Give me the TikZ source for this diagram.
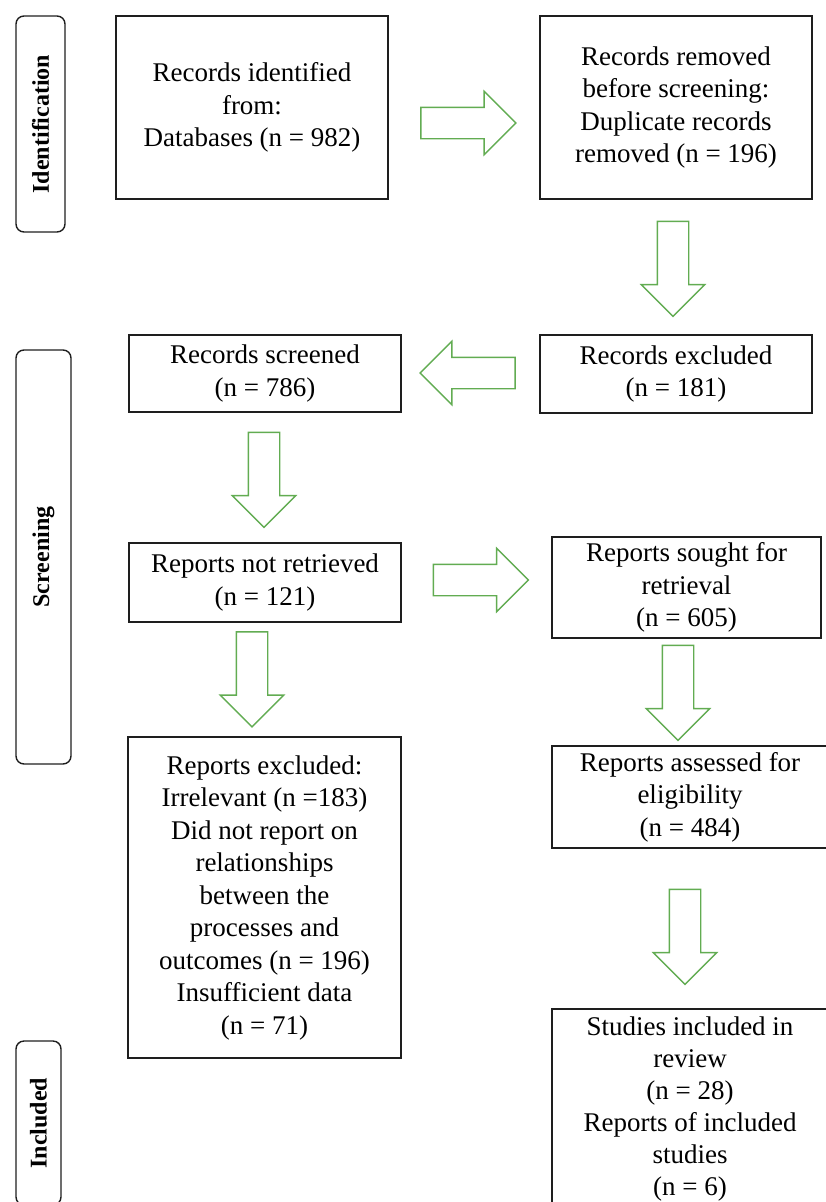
\documentclass[tikz,border=0pt]{standalone}
\usepackage{fontspec}
\setmainfont{Liberation Serif}
\usetikzlibrary{shapes.arrows}
\definecolor{arrowgreen}{RGB}{98,172,82}
\definecolor{boxline}{RGB}{30,30,30}
\tikzset{
  box/.style={draw=boxline, line width=1.8pt, rectangle, align=center,
    font=\fontsize{27}{32.5}\selectfont, inner sep=0pt},
  stage/.style={draw=boxline, line width=1.4pt, rectangle, rounded corners=8pt,
    rotate=90, inner sep=0pt, font=\fontsize{24}{28}\selectfont\bfseries},
  blockarrow/.style={single arrow, draw=arrowgreen, fill=white, line width=1.4pt,
    minimum height=95pt, inner xsep=0pt, inner ysep=15pt, single arrow head extend=16pt,
    single arrow tip angle=90}
}
\begin{document}
\begin{tikzpicture}[x=1pt,y=-1pt]
\useasboundingbox (0,0) rectangle (825,1202);
% stage labels
\node[stage, minimum width=216pt, minimum height=49pt] (lid) at (40.5,124) {Identification};
\node[stage, minimum width=414pt, minimum height=55pt] (lsc) at (43.5,557) {Screening};
\node[stage, minimum width=164pt, minimum height=45pt] (lin) at (38.5,1123) {Included};
% boxes
\node[box, minimum width=272pt, minimum height=183pt] (b1) at (252,107.5) {Records identified\\from:\\Databases (n = 982)};
\node[box, minimum width=272pt, minimum height=183pt] (b2) at (676,107.5) {Records removed\\before screening:\\Duplicate records\\removed (n = 196)};
\node[box, minimum width=272pt, minimum height=78pt] (b3) at (676,374) {Records excluded\\(n = 181)};
\node[box, minimum width=272pt, minimum height=77pt] (b4) at (265,373.5) {Records screened\\(n = 786)};
\node[box, minimum width=272pt, minimum height=79pt] (b5) at (265,582.5) {Reports not retrieved\\(n = 121)};
\node[box, minimum width=273pt, minimum height=321pt] (b6) at (264.5,897.5) {Reports excluded:\\Irrelevant (n =183)\\Did not report on\\relationships\\between the\\processes and\\outcomes (n = 196)\\Insufficient data\\(n = 71)};
\node[box, minimum width=269pt, minimum height=101pt] (b7) at (686.5,587.5) {Reports sought for\\retrieval\\(n = 605)};
\node[box, minimum width=276pt, minimum height=102pt] (b8) at (690,797) {Reports assessed for\\eligibility\\(n = 484)};
\node[box, minimum width=276pt, minimum height=200pt, font=\fontsize{27}{32}\selectfont] (b9) at (690,1109) {Studies included in\\review\\(n = 28)\\Reports of included\\studies\\(n = 6)};
% block arrows
\node[blockarrow] (a1) at (460.5,123) {};
\node[blockarrow, rotate=-90] (a2) at (673,261) {};
\node[blockarrow, rotate=180] (a3) at (475.5,373) {};
\node[blockarrow, rotate=-90] (a4) at (264,472) {};
\node[blockarrow, rotate=-90] (a5) at (252,671.5) {};
\node[blockarrow] (a6) at (473,580) {};
\node[blockarrow, rotate=-90] (a7) at (678,685) {};
\node[blockarrow, rotate=-90] (a8) at (685,929) {};
\end{tikzpicture}
\end{document}
